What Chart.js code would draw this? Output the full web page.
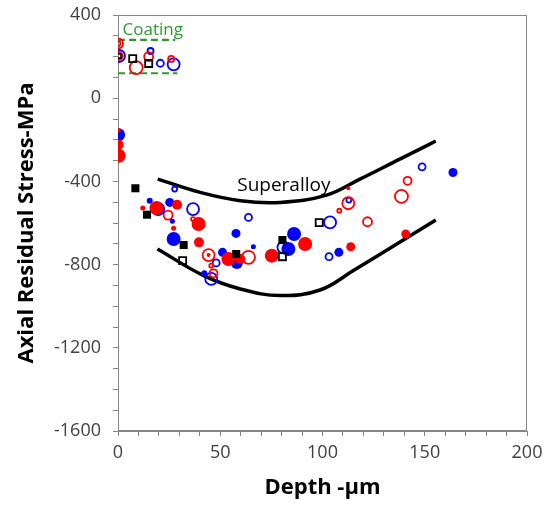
<!DOCTYPE html>
<html>
<head>
<meta charset="utf-8">
<script src="https://cdn.jsdelivr.net/npm/chart.js@4.4.0/dist/chart.umd.min.js"></script>
<style>
  html, body { margin: 0; padding: 0; background: #fff; }
</style>
</head>
<body>
<canvas id="stressChart" width="556" height="505"></canvas>
<script>
// depth (µm) vs axial residual stress (MPa)
const redFilledDepth  = [0, 0.3, 0.3, 12.1, 18.8, 28.9, 39.4, 27.2, 39.6, 54, 59.8, 75.2, 91.5, 112.6, 113.8, 140.7, 44.3];
const redFilledStress = [-154, -224, -277, -528, -528, -512, -605, -625, -693, -773, -773, -757, -701, -433, -714, -653, -754];

const blueFilledDepth  = [0.3, 15.5, 19.6, 25.3, 26.6, 27.2, 42.2, 57.7, 66.2, 51.1, 58.1, 86.1, 83.3, 108, 163.8];
const blueFilledStress = [-176, -493, -533, -501, -592, -677, -842, -650, -714, -741, -792, -653, -725, -741, -357];

const redOpenDepth  = [0, 0, 0.3, 8.9, 15, 26, 24.5, 36.7, 44.3, 45.6, 46.7, 63.8, 112.6, 108.2, 122, 138.6, 141.6];
const redOpenStress = [263, 263, 203, 147, 200, 189, -562, -581, -754, -805, -842, -765, -505, -541, -594, -472, -397];

const blueOpenDepth  = [0.5, 15.9, 20.7, 27.2, 27.7, 36.7, 48, 45.6, 63.8, 80.9, 103.7, 103.2, 112.9, 148.7];
const blueOpenStress = [203, 227, 168, 163, -437, -533, -792, -869, -573, -717, -597, -762, -490, -330];

const blackFilledDepth  = [8.5, 14.2, 32.1, 57.8, 80.4];
const blackFilledStress = [-433, -560, -706, -749, -682];

const blackOpenDepth  = [0.5, 7.2, 15, 31.6, 80.4, 98.4];
const blackOpenStress = [203, 190, 167, -781, -762, -598];

// superalloy band (upper and lower bounds)
const upperDepth  = [19.4, 40.2, 59.8, 79.3, 102, 118.3, 137.8, 147.6, 155.4];
const upperStress = [-389, -453, -493, -501, -466, -389, -293, -245, -206];
const lowerDepth  = [19.3, 41.9, 59.8, 79.3, 98.8, 114.9, 140.7, 155.4];
const lowerStress = [-725, -853, -917, -949, -922, -830, -675, -586];

// coating band
const coatTopDepth = [0, 28];
const coatTopStress = [280, 280];
const coatBotDepth = [0, 29];
const coatBotStress = [120, 120];

// marker radii (px), one per point
const redFilledSize   = [2.5, 5, 7, 2.5, 7, 5, 7, 2.5, 5, 7, 5, 7, 7, 2, 4.5, 4.5, 2];
const blueFilledSize  = [6.5, 3, 7, 4.5, 2.5, 7, 3, 4.5, 2.5, 4.5, 6, 7, 7, 4.5, 4.5];
const redOpenSize     = [5, 2.5, 4, 6.5, 4.5, 3, 4.5, 2, 6, 2, 4, 6.5, 6, 2, 4.5, 6.5, 4];
const blueOpenSize    = [6, 3, 3.5, 6, 2.5, 6, 3.5, 6, 3.5, 6, 6, 3.5, 2.5, 3.5];
const blackOpenSize   = [3, 5, 5, 5, 5, 5];

const noteText = ['Coating', 'Superalloy'];
const noteDepth = [2.2, 58.3];
const noteStress = [326, -422];

const FONT = "'Open Sans', sans-serif";
const RED = '#ff0000', BLUE = '#0000ff', GREEN = '#2e9a2e', AXIS = '#868686';

const pts = (xs, ys) => xs.map((x, i) => ({ x: x, y: ys[i] }));

function markers(label, xs, ys, color, filled, size, style, order) {
    return {
        label: label,
        data: pts(xs, ys),
        pointStyle: style,
        pointRadius: size,
        pointHoverRadius: size,
        backgroundColor: filled ? color : 'rgba(0,0,0,0)',
        borderColor: color,
        pointBorderWidth: filled ? 0 : 1.8,
        showLine: false,
        order: order
    };
}

function band(label, xs, ys, color, dash, width) {
    return {
        label: label,
        data: pts(xs, ys),
        showLine: true,
        borderColor: color,
        borderWidth: width,
        borderDash: dash,
        pointRadius: 0,
        tension: 0.4,
        order: 20
    };
}

const frameAndNotes = {
    id: 'frameAndNotes',
    beforeDatasetsDraw(chart) {
        const { ctx, chartArea: a } = chart;
        ctx.save();
        ctx.strokeStyle = AXIS;
        ctx.lineWidth = 1;
        ctx.strokeRect(a.left + 0.5, a.top + 0.5, a.right - a.left - 1, a.bottom - a.top - 1);
        ctx.restore();
    },
    afterDatasetsDraw(chart) {
        const { ctx, scales: { x, y } } = chart;
        ctx.save();
        ctx.textBaseline = 'middle';
        ctx.fillStyle = GREEN;
        ctx.font = `17px ${FONT}`;
        ctx.fillText(noteText[0], x.getPixelForValue(noteDepth[0]), y.getPixelForValue(noteStress[0]));
        ctx.fillStyle = '#000';
        ctx.font = `19px ${FONT}`;
        ctx.fillText(noteText[1], x.getPixelForValue(noteDepth[1]), y.getPixelForValue(noteStress[1]));
        ctx.restore();
    }
};

const ctx = document.getElementById('stressChart').getContext('2d');
new Chart(ctx, {
    type: 'scatter',
    data: {
        datasets: [
            markers('Black filled', blackFilledDepth, blackFilledStress, '#000', true, 5.7, 'rect', 0),
            markers('Black open', blackOpenDepth, blackOpenStress, '#000', false, blackOpenSize, 'rect', 0),
            markers('Red filled', redFilledDepth, redFilledStress, RED, true, redFilledSize, 'circle', 1),
            markers('Blue filled', blueFilledDepth, blueFilledStress, BLUE, true, blueFilledSize, 'circle', 2),
            markers('Red open', redOpenDepth, redOpenStress, RED, false, redOpenSize, 'circle', 3),
            markers('Blue open', blueOpenDepth, blueOpenStress, BLUE, false, blueOpenSize, 'circle', 4),
            band('Upper', upperDepth, upperStress, '#000', [], 3.5),
            band('Lower', lowerDepth, lowerStress, '#000', [], 3.5),
            band('Coating top', coatTopDepth, coatTopStress, GREEN, [7, 4], 2.2),
            band('Coating bottom', coatBotDepth, coatBotStress, GREEN, [7, 4], 2.2)
        ]
    },
    options: {
        responsive: false,
        animation: false,
        layout: { padding: { top: 15, right: 29, left: 0, bottom: 0 } },
        plugins: {
            legend: { display: false },
            tooltip: { enabled: false }
        },
        scales: {
            x: {
                type: 'linear',
                min: 0,
                max: 200,
                afterFit: s => { s.height = 74; },
                border: { color: AXIS },
                grid: { drawOnChartArea: false, drawTicks: true, tickLength: 5, color: AXIS },
                ticks: {
                    stepSize: 10,
                    autoSkip: false,
                    maxRotation: 0,
                    padding: 6,
                    color: '#404040',
                    font: { family: FONT, size: 18 },
                    callback: v => (v % 50 === 0 ? String(v) : '')
                },
                title: {
                    display: true,
                    text: 'Depth -µm',
                    color: '#000',
                    font: { family: FONT, size: 22, weight: 'bold' },
                    padding: { top: 0, bottom: 4 }
                }
            },
            y: {
                type: 'linear',
                min: -1600,
                max: 400,
                afterFit: s => { s.width = 118; s.paddingTop = 0; s.paddingBottom = 0; },
                border: { color: AXIS },
                grid: { drawOnChartArea: false, drawTicks: true, tickLength: 5, color: AXIS },
                ticks: {
                    stepSize: 100,
                    autoSkip: false,
                    padding: 12,
                    color: '#404040',
                    font: { family: FONT, size: 18 },
                    callback: v => (v % 400 === 0 ? String(v) : '')
                },
                title: {
                    display: true,
                    text: 'Axial Residual Stress-MPa',
                    color: '#000',
                    font: { family: FONT, size: 22, weight: 'bold' },
                    padding: { top: 14, bottom: 0 }
                }
            }
        }
    },
    plugins: [frameAndNotes]
});
</script>
</body>
</html>
